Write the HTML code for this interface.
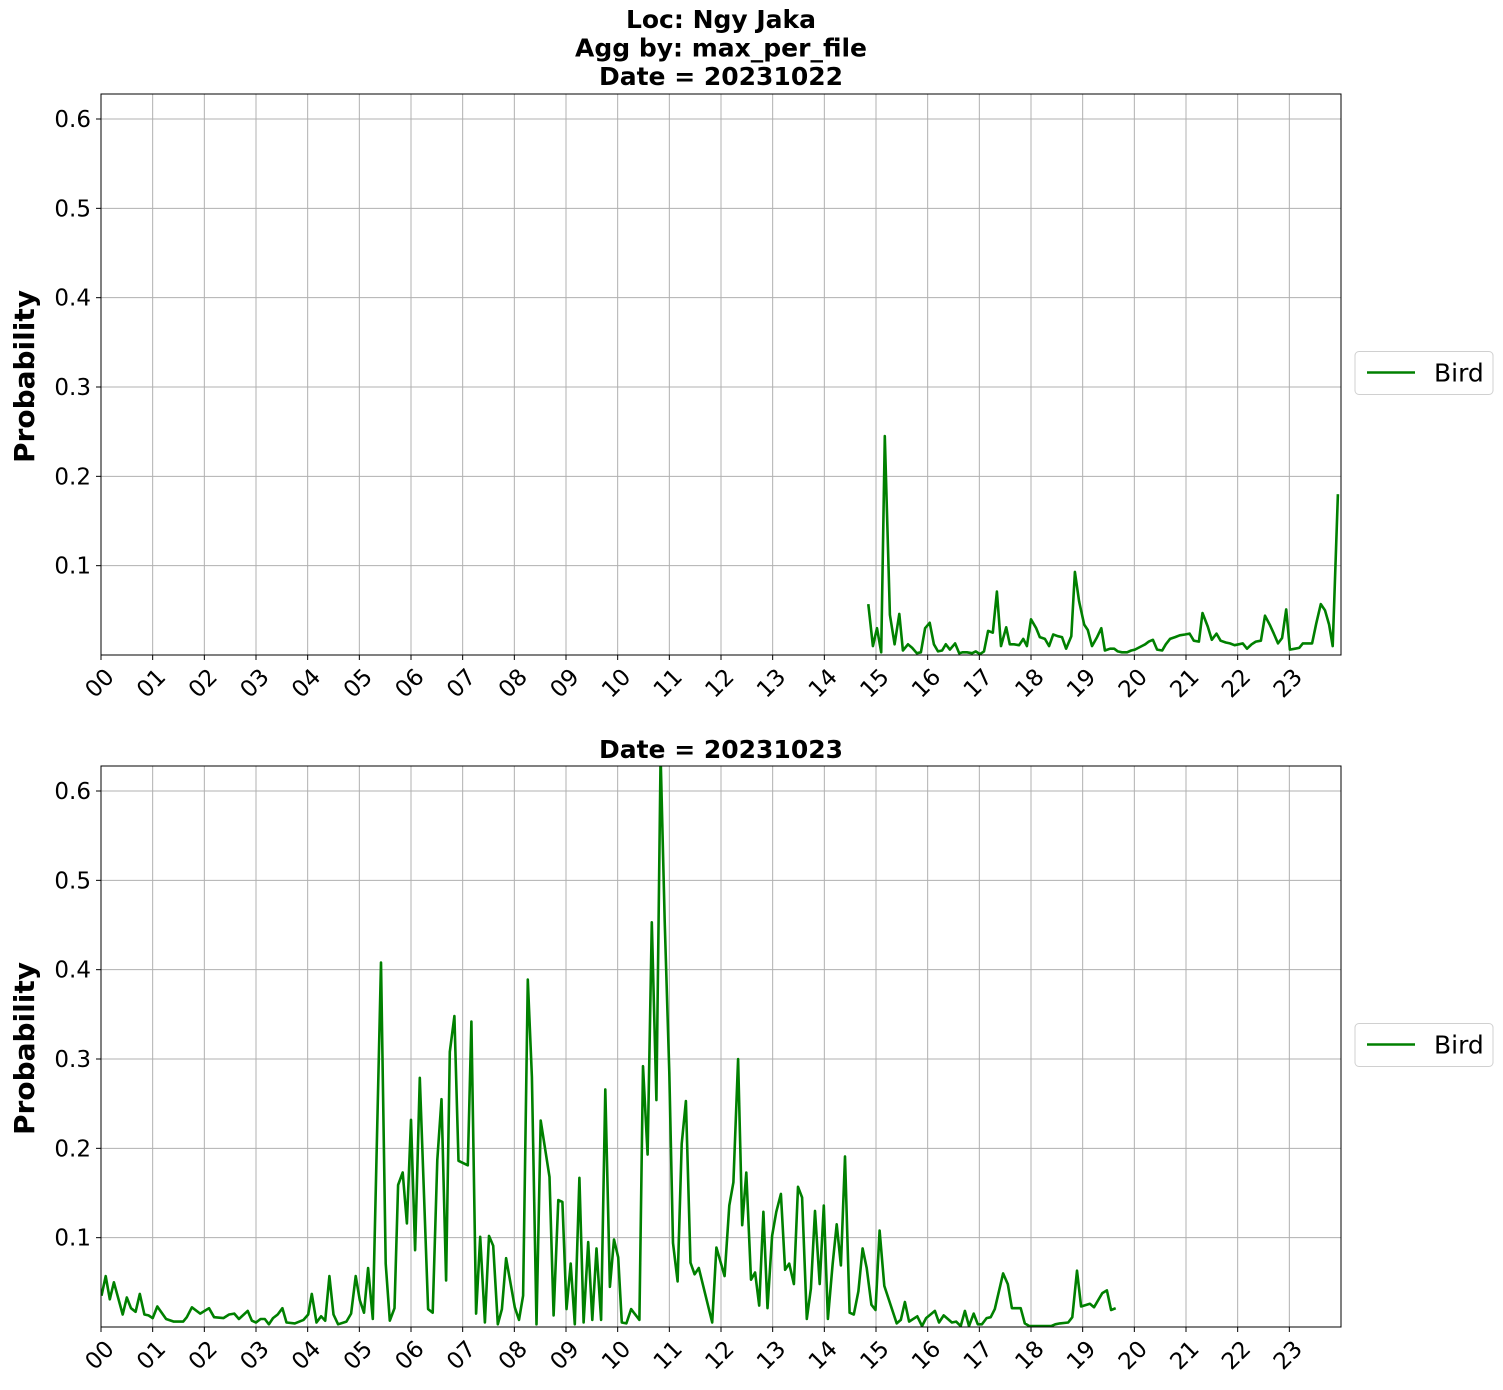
<!DOCTYPE html>
<html><head><meta charset="utf-8"><style>
body{margin:0;background:#fff;}
svg text{font-family:"DejaVu Sans","Liberation Sans",sans-serif;}
</style></head><body>
<svg id="chart" width="1503" height="1385" xmlns="http://www.w3.org/2000/svg"></svg>
<script>
const hourLabels = ["00","01","02","03","04","05","06","07","08","09","10","11","12","13","14","15","16","17","18","19","20","21","22","23"];
const yTicks = [0.1,0.2,0.3,0.4,0.5,0.6];
const topHours = [14.85,14.94,15.02,15.10,15.17,15.27,15.36,15.45,15.52,15.62,15.70,15.79,15.87,15.95,16.04,16.12,16.20,16.28,16.35,16.43,16.53,16.61,16.68,16.76,16.86,16.93,17.01,17.09,17.17,17.26,17.34,17.42,17.52,17.59,17.67,17.77,17.85,17.92,18.00,18.10,18.17,18.27,18.35,18.43,18.52,18.60,18.68,18.78,18.85,18.93,19.03,19.10,19.18,19.28,19.36,19.43,19.53,19.61,19.68,19.76,19.86,19.94,20.01,20.11,20.21,20.28,20.36,20.44,20.54,20.61,20.69,20.79,20.88,20.98,21.07,21.15,21.25,21.32,21.42,21.50,21.59,21.67,21.77,21.85,21.94,22.02,22.10,22.18,22.27,22.35,22.45,22.53,22.62,22.70,22.78,22.86,22.94,23.01,23.11,23.19,23.26,23.36,23.44,23.52,23.61,23.69,23.77,23.84,23.94];
const topProb = [0.057,0.01,0.03,0.003,0.245,0.045,0.012,0.046,0.005,0.012,0.008,0.002,0.003,0.03,0.036,0.012,0.004,0.005,0.012,0.006,0.013,0.002,0.003,0.003,0.002,0.004,0.001,0.004,0.027,0.025,0.071,0.01,0.031,0.012,0.012,0.011,0.018,0.01,0.04,0.03,0.02,0.018,0.01,0.023,0.021,0.02,0.007,0.021,0.093,0.06,0.034,0.028,0.01,0.02,0.03,0.005,0.007,0.007,0.004,0.003,0.003,0.005,0.006,0.009,0.012,0.015,0.017,0.006,0.005,0.012,0.018,0.02,0.022,0.023,0.024,0.016,0.015,0.047,0.032,0.017,0.024,0.016,0.014,0.013,0.011,0.012,0.013,0.007,0.012,0.015,0.016,0.044,0.034,0.024,0.013,0.019,0.051,0.006,0.007,0.008,0.013,0.013,0.013,0.035,0.057,0.05,0.034,0.01,0.18];
const botHours = [0.01,0.09,0.17,0.25,0.42,0.50,0.58,0.67,0.75,0.84,0.92,1.00,1.09,1.26,1.41,1.59,1.66,1.76,1.92,2.09,2.19,2.37,2.48,2.58,2.67,2.84,2.92,3.00,3.09,3.17,3.25,3.33,3.42,3.51,3.59,3.75,3.92,4.01,4.08,4.17,4.26,4.34,4.42,4.50,4.59,4.75,4.84,4.93,5.01,5.09,5.17,5.26,5.42,5.51,5.59,5.68,5.75,5.84,5.92,6.00,6.08,6.17,6.33,6.42,6.51,6.59,6.68,6.75,6.84,6.92,7.10,7.17,7.26,7.34,7.43,7.51,7.59,7.68,7.76,7.84,8.01,8.09,8.17,8.26,8.34,8.43,8.51,8.68,8.76,8.85,8.93,9.01,9.09,9.17,9.26,9.34,9.43,9.51,9.59,9.68,9.76,9.85,9.93,10.01,10.08,10.17,10.26,10.42,10.49,10.58,10.66,10.75,10.83,10.91,11.0,11.07,11.16,11.24,11.32,11.41,11.49,11.57,11.83,11.91,12.07,12.16,12.24,12.33,12.41,12.49,12.58,12.66,12.74,12.82,12.90,12.99,13.07,13.16,13.24,13.32,13.41,13.49,13.57,13.66,13.74,13.82,13.91,13.99,14.07,14.16,14.24,14.32,14.40,14.49,14.57,14.66,14.74,14.82,14.91,14.99,15.07,15.16,15.40,15.48,15.56,15.64,15.80,15.89,15.97,16.14,16.22,16.31,16.47,16.55,16.64,16.72,16.80,16.89,16.97,17.05,17.14,17.22,17.30,17.46,17.55,17.63,17.80,17.88,17.97,18.39,18.47,18.56,18.72,18.80,18.89,18.97,19.14,19.22,19.38,19.47,19.55,19.64];
const botProb = [0.035,0.057,0.031,0.050,0.014,0.033,0.021,0.017,0.037,0.014,0.013,0.010,0.023,0.009,0.006,0.006,0.011,0.022,0.015,0.021,0.011,0.010,0.014,0.015,0.009,0.018,0.007,0.005,0.009,0.009,0.003,0.010,0.014,0.021,0.005,0.004,0.008,0.014,0.037,0.005,0.012,0.007,0.057,0.014,0.003,0.006,0.015,0.057,0.030,0.016,0.066,0.009,0.408,0.071,0.007,0.021,0.159,0.173,0.116,0.232,0.086,0.279,0.020,0.016,0.187,0.255,0.052,0.308,0.348,0.186,0.181,0.342,0.015,0.101,0.005,0.102,0.091,0.003,0.020,0.077,0.022,0.008,0.035,0.389,0.280,0.003,0.231,0.168,0.013,0.142,0.140,0.020,0.071,0.003,0.167,0.005,0.095,0.008,0.088,0.008,0.266,0.045,0.098,0.078,0.005,0.004,0.020,0.008,0.292,0.193,0.453,0.254,0.64,0.454,0.285,0.094,0.051,0.205,0.253,0.072,0.059,0.066,0.005,0.089,0.057,0.136,0.162,0.300,0.114,0.173,0.053,0.061,0.024,0.129,0.021,0.102,0.129,0.149,0.064,0.071,0.048,0.157,0.145,0.009,0.043,0.130,0.048,0.136,0.009,0.070,0.115,0.069,0.191,0.016,0.014,0.040,0.088,0.066,0.025,0.019,0.108,0.046,0.004,0.008,0.028,0.006,0.012,0.001,0.010,0.018,0.005,0.013,0.005,0.006,0.001,0.018,0.001,0.015,0.003,0.003,0.010,0.011,0.020,0.060,0.048,0.021,0.021,0.004,0.001,0.001,0.003,0.004,0.005,0.011,0.063,0.023,0.026,0.022,0.038,0.041,0.019,0.021];

const NS="http://www.w3.org/2000/svg";
const svg=document.getElementById('chart');
function mk(tag,attrs,parent,text){const e=document.createElementNS(NS,tag);for(const k in attrs)e.setAttribute(k,attrs[k]);if(text!==undefined)e.textContent=text;(parent||svg).appendChild(e);return e;}
const X0=101,X1=1341,YMAX=0.628;
function xs(h){return X0+(X1-X0)*h/24;}
function panel(top,bottom,hours,probs,titleLines,titleY,name){
  const g=mk('g',{});
  
  
  const ys=v=>bottom-(bottom-top)*v/YMAX;
  hourLabels.forEach((lab,i)=>{
    const x=xs(i);
    const gl=mk('line',{x1:x,y1:top,x2:x,y2:bottom,stroke:'#b0b0b0','stroke-width':1},g);
    
    
    mk('line',{x1:x,y1:bottom,x2:x,y2:bottom+5,stroke:'#000','stroke-width':1},g);
    const t=mk('text',{transform:`translate(${x+3},${bottom+12}) rotate(-45)`,'text-anchor':'end','dominant-baseline':'hanging','font-size':23},g,lab);
    
    
  });
  yTicks.forEach(v=>{
    const y=ys(v);
    const gl=mk('line',{x1:X0,y1:y,x2:X1,y2:y,stroke:'#b0b0b0','stroke-width':1},g);
    
    
    mk('line',{x1:X0-5,y1:y,x2:X0,y2:y,stroke:'#000','stroke-width':1},g);
    const t=mk('text',{x:X0-10,y:y+8,'text-anchor':'end','font-size':23},g,v.toFixed(1));
    
    
  });
  const cp='clip-'+name;
  const cpe=mk('clipPath',{id:cp},g);mk('rect',{x:X0,y:top,width:X1-X0,height:bottom-top},cpe);
  const pts=hours.map((h,i)=>xs(h).toFixed(1)+','+ys(probs[i]).toFixed(1)).join(' ');
  const pl=mk('polyline',{points:pts,fill:'none',stroke:'#008000','stroke-width':2.6,'stroke-linejoin':'round','clip-path':`url(#${cp})`},g);
  
  
  const fr=mk('rect',{x:X0,y:top,width:X1-X0,height:bottom-top,fill:'none',stroke:'#000','stroke-width':1},g);
  
  
  titleLines.forEach((s,i)=>{
    const t=mk('text',{x:721,y:titleY+i*28.5,'text-anchor':'middle','font-size':25,'font-weight':'bold'},g,s);
    
    
  });
  const yl=mk('text',{transform:`translate(34,${(top+bottom)/2+2}) rotate(-90)`,'text-anchor':'middle','font-size':28,'font-weight':'bold'},g,'Probability');
  
  
  const ly=(top+bottom)/2-2;
  const lg=mk('g',{},g);
  
  
  mk('rect',{x:1355,y:ly-21,width:138,height:43,rx:4,fill:'#fff',stroke:'#d0d0d0','stroke-width':1},lg);
  mk('line',{x1:1367,y1:ly,x2:1415,y2:ly,stroke:'#008000','stroke-width':2.6},lg);
  const lt=mk('text',{x:1434,y:ly+9,'font-size':25},lg,'Bird');
  
  
}
panel(94,655,topHours,topProb,['Loc: Ngy Jaka','Agg by: max_per_file','Date = 20231022'],28,'panel-20231022');
panel(766,1327,botHours,botProb,['Date = 20231023'],758,'panel-20231023');
</script>
</body></html>
